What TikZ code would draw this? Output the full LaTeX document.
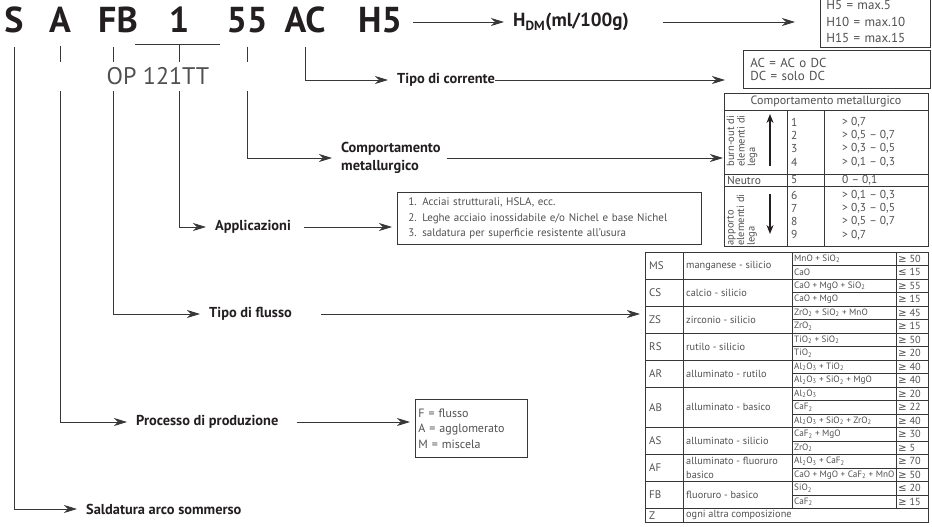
\documentclass[tikz,border=0pt]{standalone}
\usepackage{fontspec}
\setmainfont{PT Sans}
\newfontfamily\symfont{DejaVu Sans}
\usetikzlibrary{arrows.meta, calc}
\definecolor{inkC}{RGB}{35,31,32}
\definecolor{lineC}{RGB}{55,55,55}
\definecolor{greyC}{RGB}{80,80,80}
\newcommand{\mge}{{\symfont ≥}}
\newcommand{\mle}{{\symfont ≤}}
\newcommand{\codefont}{\fontsize{36}{40}\selectfont\bfseries}
\newcommand{\lblfont}{\fontsize{14.4}{18}\selectfont\bfseries}
\newcommand{\tabfont}{\fontsize{10.3}{13.5}\selectfont}
\tikzset{
  CODE/.style={font=\codefont, text=inkC, inner sep=0pt, anchor=base},
  LBL/.style={font=\lblfont, text=inkC, inner sep=4pt, anchor=west},
  LN/.style={draw=lineC, line width=0.8pt},
  AR/.style={LN, -{Stealth[length=13pt, width=8pt, inset=4pt]}, shorten >=5pt},
  DROP/.style={shorten <=13pt},
  BOXT/.style={draw=lineC, line width=0.8pt, text=greyC, align=left, anchor=north west},
  TAB/.style={draw=lineC, line width=0.6pt},
  CELL/.style={font=\tabfont, text=greyC, anchor=west, align=left, inner sep=0pt},
  FORM/.style={CELL, font=\fontsize{9.2}{13.5}\selectfont},
  VAL/.style={font=\fontsize{11.5}{13.3}\selectfont, text=greyC, anchor=west, align=left, inner sep=0pt},
  ROT/.style={font=\fontsize{10.5}{10.5}\selectfont, text=greyC, rotate=90, align=left, inner sep=0pt},
  UPAR/.style={draw=inkC, line width=1.3pt, -{Stealth[length=9pt, width=7pt]}},
}

\begin{document}
\begin{tikzpicture}[x=1pt, y=1pt, yscale=-1]
\useasboundingbox (0,0) rectangle (932,527);
\clip (0,0) rectangle (932,527);

%% designation code
\node[CODE] (S)   at (14,33)  {S};
\node[CODE] (A)   at (60,33)  {A};
\node[CODE] (FB)  at (118,33) {FB};
\node[CODE] (N1)  at (179,33) {1};
\node[CODE] (N55) at (247,33) {55};
\node[CODE] (AC)  at (305,33) {AC};
\node[CODE] (H5)  at (380,33) {H5};

%% labels
\node[LBL] (sald) at (82,509)  {Saldatura arco sommerso};
\node[LBL] (proc) at (132,422) {Processo di produzione};
\node[LBL] (flux) at (205,314) {Tipo di flusso};
\node[LBL] (appl) at (211,227) {Applicazioni};
\node[LBL, align=left] (comp) at (337,158) {Comportamento\\metallurgico};
\node[LBL] (corr) at (393,80)  {Tipo di corrente};
\node[LBL, font=\fontsize{19}{21}\selectfont\bfseries] (hdm) at (509,22) {H\textsubscript{DM}(ml/100g)};

%% boxes
\node[BOXT, font=\fontsize{13}{16.5}\selectfont, minimum width=110, minimum height=51,
  text width=98, inner xsep=6pt] (hbox) at (820,-4) {H5 = max.5\\H10 = max.10\\H15 = max.15};
\node[BOXT, font=\fontsize{13}{13.5}\selectfont, minimum width=187, minimum height=38,
  text width=173, inner xsep=7pt] (acbox) at (743,50) {AC = AC o DC\\DC = solo DC};
\node[BOXT, font=\fontsize{11}{15.5}\selectfont, minimum width=304, minimum height=52,
  text width=282, inner xsep=11pt] (applbox) at (397,192)
  {1. Acciai strutturali, HSLA, ecc.\\2. Leghe acciaio inossidabile e/o Nichel e base Nichel\\3. saldatura per superficie resistente all’usura};
\node[BOXT, font=\fontsize{12}{15.5}\selectfont, minimum width=112, minimum height=58,
  text width=106, inner xsep=3pt] (procbox) at (415,399) {F = flusso\\A = agglomerato\\M = miscela};

%% Comportamento metallurgico table
\node[BOXT, minimum width=204, minimum height=153, inner sep=0pt] (comptab) at (724,93) {};
\draw[TAB] (724,110) -- (928,110);
\draw[TAB] (724,174) -- (928,174);
\draw[TAB] (724,186) -- (928,186);
\draw[TAB] (787,110) -- (787,246);
\draw[TAB] (824,110) -- (824,246);
\node[VAL, anchor=center, font=\fontsize{12}{14}\selectfont] (ctitle) at (826,101.5) {Comportamento metallurgico};
\node[ROT] (bo) at (742,141) {burn-out di\\elementi di\\lega};
\node[ROT] (ap) at (742,220) {apporto\\elementi di\\lega};
\draw[UPAR] (770,166) -- (770,114);
\draw[UPAR] (770,194) -- (770,234);
\node[VAL] (cn1) at (791,142) {1\\2\\3\\4};
\node[VAL] (cv1) at (842,142) {> 0,7\\> 0,5 – 0,7\\> 0,3 – 0,5\\> 0,1 – 0,3};
\node[VAL] (neu) at (727,180) {Neutro};
\node[VAL] (cn5) at (791,180) {5};
\node[VAL] (cv5) at (842,180) {0 – 0,1};
\node[VAL] (cn2) at (791,215) {6\\7\\8\\9};
\node[VAL] (cv2) at (842,215) {> 0,1 – 0,3\\> 0,3 – 0,5\\> 0,5 – 0,7\\> 0,7};

%% Tipo di flusso table
\node[BOXT, minimum width=283, minimum height=270, inner sep=0pt] (fluxtab) at (645,252) {};
\draw[TAB] (683,252) -- (683,522);
\draw[TAB] (792,252) -- (792,508.5);
\draw[TAB] (896,252) -- (896,508.5);
\foreach \r in {2,4,6,8,10,13,15,17,19}
  \draw[TAB] (645,{252+13.5*\r}) -- (928,{252+13.5*\r});
\foreach \r in {1,3,5,7,9,11,12,14,16,18}
  \draw[TAB] (792,{252+13.5*\r}) -- (928,{252+13.5*\r});
\foreach \c/\d/\s/\n in {MS/manganese - silicio/0/2, CS/calcio - silicio/2/2,
    ZS/zirconio - silicio/4/2, RS/rutilo - silicio/6/2, AR/alluminato - rutilo/8/2,
    AB/alluminato - basico/10/3, AS/alluminato - silicio/13/2,
    AF/{alluminato - fluoruro\\basico}/15/2, FB/fluoruro - basico/17/2,
    Z/ogni altra composizione/19/1}{
  \node[CELL, font=\fontsize{11}{13.5}\selectfont] (fc\c) at (649,{252+13.5*(\s+\n/2)}) {\c};
  \node[CELL] (fd\c) at (686,{252+13.5*(\s+\n/2)}) {\d};
}
\foreach \r/\f/\v in {0/MnO + SiO\textsubscript{2}/\mge\ 50, 1/CaO/\mle\ 15,
    2/CaO + MgO + SiO\textsubscript{2}/\mge\ 55, 3/CaO + MgO/\mge\ 15,
    4/ZrO\textsubscript{2} + SiO\textsubscript{2} + MnO/\mge\ 45, 5/ZrO\textsubscript{2}/\mge\ 15,
    6/TiO\textsubscript{2} + SiO\textsubscript{2}/\mge\ 50, 7/TiO\textsubscript{2}/\mge\ 20,
    8/Al\textsubscript{2}O\textsubscript{3} + TiO\textsubscript{2}/\mge\ 40,
    9/Al\textsubscript{2}O\textsubscript{3} + SiO\textsubscript{2} + MgO/\mge\ 40,
    10/Al\textsubscript{2}O\textsubscript{3}/\mge\ 20, 11/CaF\textsubscript{2}/\mge\ 22,
    12/Al\textsubscript{2}O\textsubscript{3} + SiO\textsubscript{2} + ZrO\textsubscript{2}/\mge\ 40,
    13/CaF\textsubscript{2} + MgO/\mge\ 30, 14/ZrO\textsubscript{2}/\mge\ 5,
    15/Al\textsubscript{2}O\textsubscript{3} + CaF\textsubscript{2}/\mge\ 70,
    16/CaO + MgO + CaF\textsubscript{2} + MnO/\mge\ 50,
    17/SiO\textsubscript{2}/\mle\ 20, 18/CaF\textsubscript{2}/\mge\ 15}{
  \node[FORM] (ff\r) at (794,{252+13.5*\r+6.75}) {\f};
  \node[CELL] (fv\r) at (898,{252+13.5*\r+6.75}) {\v};
}

%% connectors
\draw[AR, DROP] (S.south) |- (sald.west);
\draw[AR, DROP] (A.south) |- (proc.west);
\draw[AR, DROP] ([xshift=-5pt]FB.south) |- (flux.west);
\coordinate (brk) at (179,44);
\draw[LN] (135,44) -- (220,44);
\draw[AR] (brk) |- (appl.west);
\draw[AR, DROP] (N55.south) |- (comp.west);
\draw[AR, DROP] (AC.south) |- (corr.west);
\draw[AR, shorten <=11pt] (H5.east |- hdm.west) -- (hdm.west);

\draw[AR, shorten <=14pt] (proc.east) -- (proc.east -| procbox.west);
\draw[AR, shorten <=25pt] (flux.east) -- (flux.east -| fluxtab.west);
\draw[AR, shorten <=9pt] (appl.east) -- (appl.east -| applbox.west);
\draw[AR, shorten <=2pt, shorten >=1pt] (comp.east) -- (comp.east -| comptab.west);
\draw[AR, shorten <=-4pt, shorten >=18pt] (corr.east) -- (corr.east -| acbox.west);
\draw[AR, shorten <=30pt, shorten >=25pt] (hdm.east) -- (hdm.east -| hbox.west);

%% OP 121TT band over the drops
\node[fill=white, minimum width=216, minimum height=29, inner sep=0pt,
  font=\fontsize{24}{26}\selectfont, text=greyC] (op) at (158,76.5) {OP 121TT};

\end{tikzpicture}
\end{document}
